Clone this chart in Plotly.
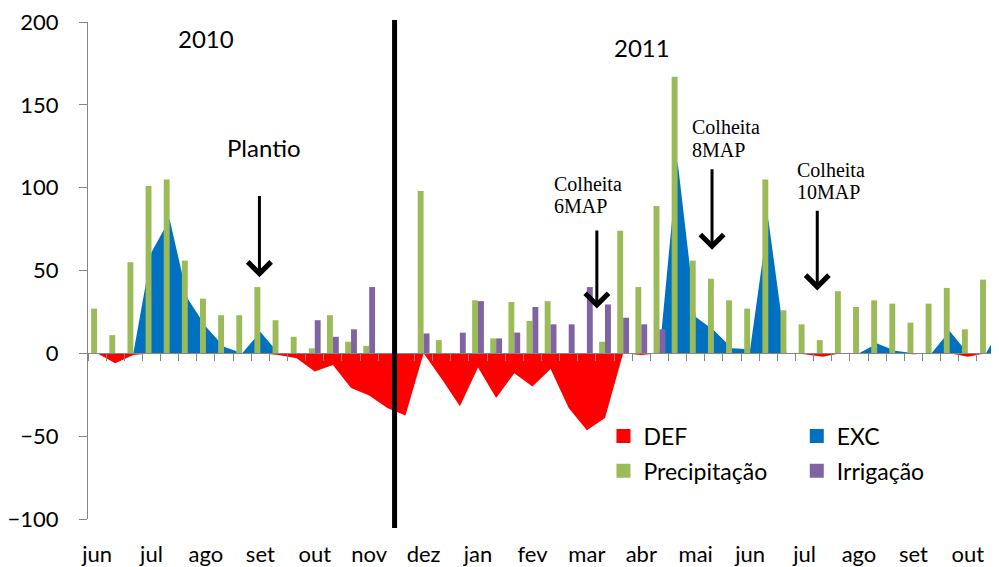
import plotly.graph_objects as go

# ---------------- data (decendial values, jun/2010 - out/2011) ----------------
months = ["jun", "jul", "ago", "set", "out", "nov", "dez", "jan", "fev",
          "mar", "abr", "mai", "jun", "jul", "ago", "set", "out"]

precipitacao = [27, 11, 55, 101, 105, 56, 33, 23, 23, 40, 20, 10, 3, 23, 7, 4.5,
                0, 0, 98, 8, 0, 32, 9, 31, 19.5, 31.5, 0, 0, 7, 74, 40, 89,
                167, 56, 45, 32, 27, 105, 26, 17.5, 8, 37.5, 28, 32, 30, 18.5,
                30, 39.5, 14.5, 44.5, 62]

irrigacao = [0, 0, 0, 0, 0, 0, 0, 0, 0, 0, 0, 0, 20, 10, 14.5, 40,
             0, 0, 12, 0, 12.5, 31.5, 9, 12.5, 28, 17.5, 17.5, 40, 29.5, 21.5, 17.5, 14.5,
             0, 0, 0, 0, 0, 0, 0, 0, 0, 0, 0, 0, 0, 0,
             0, 0, 0, 0, 0]

deficit = [0, -6, -1, 0, 0, 0, 0, 0, 0, 0, -1, -3, -11, -7, -21, -25.5,
           -33, -37.5, 0, -15.5, -32, -8.5, -27, -12, -20, -9.5, -33, -46.5, -39, 0, -1, 0,
           0, 0, 0, 0, 0, 0, 0, -0.5, -2, 0, 0, 0, 0, -0.5,
           0, 0, -2, 0, 0]

excedente = [0, 0, 0, 61, 81, 33, 16, 4, 0, 13, 0, 0, 0, 0, 0, 0,
             0, 0, 0, 0, 0, 0, 0, 0, 0, 0, 0, 0, 0, 0, 0, 0,
             116, 22, 14, 3, 2.5, 81, 0, 0, 0, 0, 0, 6, 1.5, 0,
             0, 13.5, 0, 0, 19]

n = len(precipitacao)
cats = list(range(n))

RED = "#FF0000"
BLUE = "#0070C0"
GREEN = "#9BBB59"
PURPLE = "#8064A2"
GRAY = "#868686"
SANS = "Lato"
SERIF = "Liberation Serif"

fig = go.Figure()

# areas (main subplot, drawn beneath the bars)
fig.add_trace(go.Scatter(x=cats, y=deficit, mode="lines", fill="tozeroy",
                         line=dict(width=0, color=RED), fillcolor=RED,
                         showlegend=False, hoverinfo="skip"))
fig.add_trace(go.Scatter(x=cats, y=excedente, mode="lines", fill="tozeroy",
                         line=dict(width=0, color=BLUE), fillcolor=BLUE,
                         showlegend=False, hoverinfo="skip"))

# bars (overlay subplot, drawn on top of the areas)
fig.add_trace(go.Bar(x=cats, y=precipitacao, marker=dict(color=GREEN, line=dict(width=0)),
                     xaxis="x2", showlegend=False))
fig.add_trace(go.Bar(x=cats, y=irrigacao, marker=dict(color=PURPLE, line=dict(width=0)),
                     xaxis="x2", showlegend=False))

# legend entries
for name, color, leg in [("DEF", RED, "legend"), ("Precipitação", GREEN, "legend"),
                         ("EXC", BLUE, "legend2"), ("Irrigação", PURPLE, "legend2")]:
    fig.add_trace(go.Scatter(x=[None], y=[None], mode="markers", name=name,
                             marker=dict(symbol="square", size=14, color=color),
                             legend=leg, legendgroup=name))

# page body has an 8 px margin: figure is 991x559, so plot area lands at x=80..999, y=18..522
W, H = 991, 559
ML, MT = 72, 10
PW, PH = W - ML, 504
xr = [-0.5, -0.5 + PW / 18.3]

legend_common = dict(bgcolor="rgba(0,0,0,0)", font=dict(family=SANS, size=23, color="#000"),
                     tracegroupgap=2, itemwidth=30, yanchor="top", xanchor="left")

fig.update_layout(
    width=W, height=H,
    margin=dict(l=ML, r=0, t=MT, b=H - MT - PH),
    paper_bgcolor="white", plot_bgcolor="white",
    barmode="group", bargap=0.35, bargroupgap=0,
    xaxis=dict(range=xr, tickvals=list(range(0, n, 3)), ticktext=months,
               showline=False, showgrid=False, zeroline=False,
               ticks="outside", ticklen=16, tickcolor="rgba(0,0,0,0)",
               ticklabeloverflow="allow",
               tickfont=dict(family=SANS, size=22, color="#000")),
    xaxis2=dict(range=xr, overlaying="x", anchor="free", position=1 / 3,
                tickvals=[i - 0.5 for i in range(n + 1)], ticks="outside", ticklen=7,
                tickcolor=GRAY, showline=True, linecolor=GRAY, linewidth=1,
                showticklabels=False, showgrid=False, zeroline=False),
    yaxis=dict(range=[-100, 200], tickvals=[-100, -50, 0, 50, 100, 150, 200],
               ticks="outside", ticklen=8, tickcolor=GRAY, showline=True,
               linecolor=GRAY, linewidth=1, showgrid=False, zeroline=False,
               ticklabelstandoff=16, ticklabeloverflow="allow",
               tickfont=dict(family=SANS, size=22, color="#000")),
    legend=dict(x=(600 - 80) / PW, y=1 - (416 - 18) / PH, **legend_common),
    legend2=dict(x=(795 - 80) / PW, y=1 - (416 - 18) / PH, **legend_common),
    showlegend=True,
)

# vertical divider between years
fig.add_shape(type="line", xref="x", yref="paper", x0=16.4, x1=16.4,
              y0=-0.018, y1=1.004, line=dict(color="black", width=5))

# year / event labels
fig.add_annotation(x=6.0, y=190, xref="x", yref="y", text="2010", showarrow=False,
                   font=dict(family=SANS, size=24, color="#000"))
fig.add_annotation(x=30.05, y=184.7, xref="x", yref="y", text="2011", showarrow=False,
                   font=dict(family=SANS, size=24, color="#000"))
fig.add_annotation(x=9.2, y=124, xref="x", yref="y", text="Plantio", showarrow=False,
                   font=dict(family=SANS, size=24, color="#000"))

for xl, y1, y2, t2 in [(25.1, 102.5, 88.9, "6MAP"), (32.7, 136.5, 122.8, "8MAP"),
                       (38.45, 110.6, 97.2, "10MAP")]:
    fig.add_annotation(x=xl, y=y1, xref="x", yref="y", text="Colheita", showarrow=False,
                       xanchor="left", font=dict(family=SERIF, size=20, color="#000"))
    fig.add_annotation(x=xl, y=y2, xref="x", yref="y", text=t2, showarrow=False,
                       xanchor="left", font=dict(family=SERIF, size=20, color="#000"))

# arrows
for xa, tip, tail in [(8.95, 46, 95.8), (27.55, 27, 75), (33.9, 62.5, 112), (39.7, 38, 87)]:
    fig.add_annotation(x=xa, y=tip, ax=xa, ay=tail, xref="x", yref="y", axref="x", ayref="y",
                       text="", showarrow=True, arrowhead=4, arrowsize=1.5, arrowwidth=3,
                       arrowcolor="black", standoff=0, startstandoff=0)

fig.write_html("out.html")
